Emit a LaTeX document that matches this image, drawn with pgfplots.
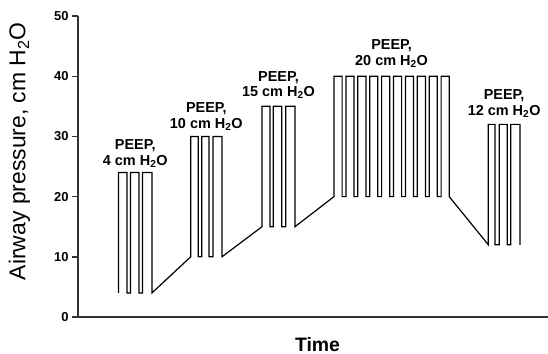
\documentclass[border=0pt]{standalone}
\usepackage{fontspec}
\setmainfont{Liberation Sans}
\usepackage{pgfplots}
\pgfplotsset{compat=1.18}
\begin{document}
\begin{tikzpicture}
\useasboundingbox (0,0) rectangle (548bp,354bp);
\begin{axis}[
  at={(78bp,37bp)}, anchor=south west,
  scale only axis, width=470bp, height=301bp,
  xmin=0, xmax=470, ymin=0, ymax=50,
  axis x line=bottom, axis y line=left,
  axis line style={-, line width=1.4bp, color=black!80},
  ytick={0,10,20,30,40,50}, xtick=\empty,
  tick align=outside, major tick length=6bp,
  tick style={line width=1.4bp, color=black!80},
  /pgf/number format/assume math mode=true,
  yticklabel style={font=\bfseries\fontsize{13}{13}\selectfont},
  ylabel={Airway pressure, cm H\textsubscript{2}O},
  ylabel style={at={(axis description cs:-0.1245,0.551)}, anchor=center, font=\fontsize{23}{23}\selectfont},
  xlabel={Time},
  xlabel style={at={(axis description cs:0.5096,-0.113)}, anchor=base, inner sep=0pt, font=\bfseries\fontsize{19.5}{19.5}\selectfont},
  clip=false,
]
\addplot[black, line width=1.2bp, line join=miter, mark=none] coordinates {
(40.5,4) (40.5,24) (49,24) (49,4) (52.5,4) (52.5,24) (61,24) (61,4) (64.5,4) (64.5,24) (74,24) (74,4)
(112.7,10) (112.7,30) (120.3,30) (120.3,10) (123.7,10) (123.7,30) (131,30) (131,10) (135,10) (135,30) (144,30) (144,10)
(184,15) (184,35) (192,35) (192,15) (195.3,15) (195.3,35) (203.7,35) (203.7,15) (207.7,15) (207.7,35) (217,35) (217,15)
(256,20) (256,40) (264.1,40) (264.1,20) (267.9,20) (267.9,40) (276,40) (276,20) (279.8,20) (279.8,40) (287.9,40) (287.9,20) (291.7,20) (291.7,40) (299.8,40) (299.8,20) (303.6,20) (303.6,40) (311.7,40) (311.7,20) (315.5,20) (315.5,40) (323.6,40) (323.6,20) (327.4,20) (327.4,40) (335.5,40) (335.5,20) (339.3,20) (339.3,40) (347.4,40) (347.4,20) (351.2,20) (351.2,40) (359.3,40) (359.3,20) (363.1,20) (363.1,40) (371.2,40) (371.2,20)
(410.3,12) (410.3,32) (417,32) (417,12) (421.3,12) (421.3,32) (429.3,32) (429.3,12) (432.7,12) (432.7,32) (442,32) (442,12)
};
\tikzset{peep/.style={align=center, anchor=south, inner sep=0pt, font=\bfseries\fontsize{14.5}{15.5}\selectfont}}
\node[peep] at (axis cs:57.25,24.8) {PEEP,\\4 cm H\textsubscript{2}O};
\node[peep] at (axis cs:128.35,31.0) {PEEP,\\10 cm H\textsubscript{2}O};
\node[peep] at (axis cs:200.5,36.2) {PEEP,\\15 cm H\textsubscript{2}O};
\node[peep] at (axis cs:313.6,41.4) {PEEP,\\20 cm H\textsubscript{2}O};
\node[peep] at (axis cs:426.15,33.1) {PEEP,\\12 cm H\textsubscript{2}O};
\end{axis}
\end{tikzpicture}
\end{document}
